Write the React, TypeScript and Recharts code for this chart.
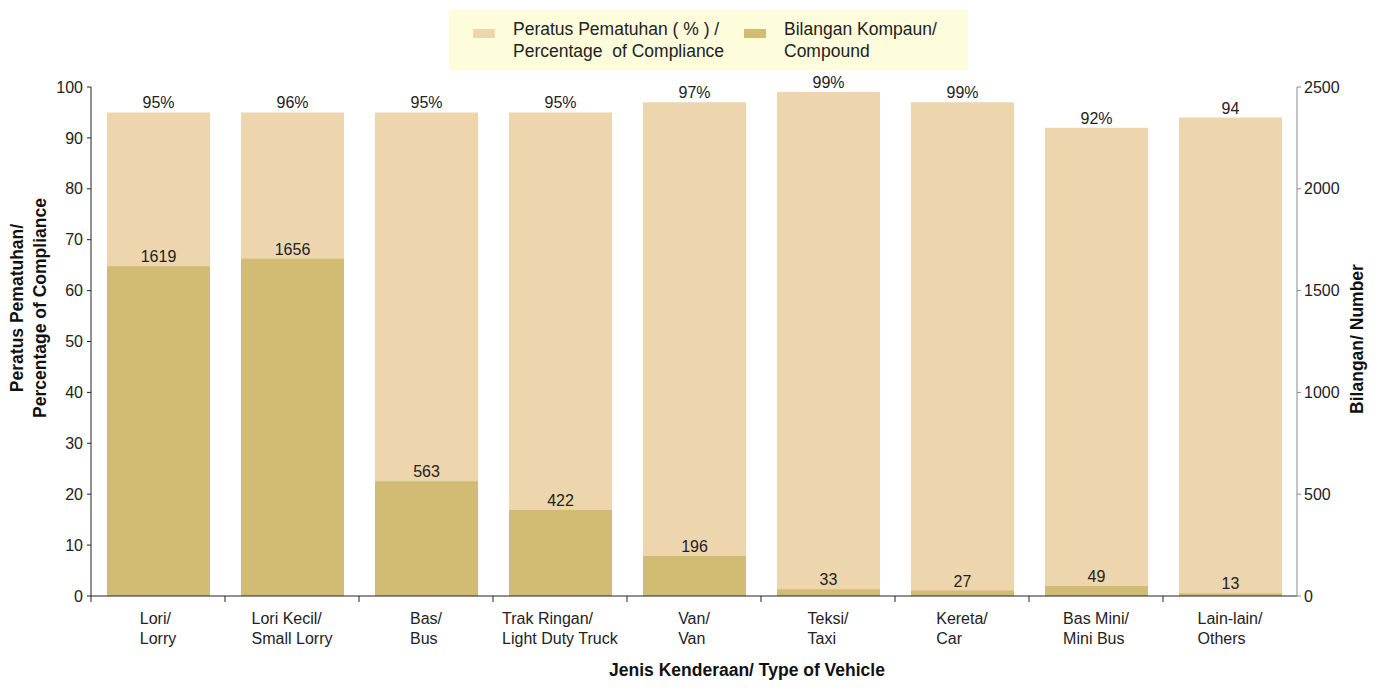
import React from 'react';
import { BarChart, Bar, XAxis, YAxis, LabelList, Label } from 'recharts';

const categories = [
  ['Lori/', 'Lorry'],
  ['Lori Kecil/', 'Small Lorry'],
  ['Bas/', 'Bus'],
  ['Trak Ringan/', 'Light Duty Truck'],
  ['Van/', 'Van'],
  ['Teksi/', 'Taxi'],
  ['Kereta/', 'Car'],
  ['Bas Mini/', 'Mini Bus'],
  ['Lain-lain/', 'Others'],
];
const compliance = [95, 95, 95, 95, 97, 99, 97, 92, 94];
const complianceLabels = ['95%', '96%', '95%', '95%', '97%', '99%', '99%', '92%', '94'];
const compounds = [1619, 1656, 563, 422, 196, 33, 27, 49, 13];
const leftTicks = [0, 10, 20, 30, 40, 50, 60, 70, 80, 90, 100];
const rightTicks = [0, 500, 1000, 1500, 2000, 2500];

const data = categories.map((c, i) => ({
  name: c.join(' '),
  lines: c,
  compliance: compliance[i],
  compound: compounds[i],
}));

const W = 1366;
const H = 674;
const LEFT_W = 83;
const RIGHT_W = 77;
const TOP = 79;
const X_H = 86;
const plotW = W - LEFT_W - RIGHT_W;
const band = plotW / categories.length;
const barW = 103;

const LIGHT = '#EDD5AD';
const DARK = '#D2BC73';
const FONT = '"Liberation Sans", Arial, Helvetica, sans-serif';
const FS = 16;
const TITLE_FS = 17.5;

let ctx: CanvasRenderingContext2D | null = null;
const measure = (s: string) => {
  if (!ctx) ctx = document.createElement('canvas').getContext('2d');
  if (!ctx) return s.length * 7.8;
  ctx.font = `${FS}px ${FONT}`;
  return ctx.measureText(s).width;
};

const XTick = (props: any) => {
  const { x, y, payload, index } = props;
  const d = data[index] || data.find((r) => r.name === payload.value);
  const lines: string[] = d ? d.lines : [String(payload.value)];
  const wMax = Math.max(...lines.map(measure));
  const left = x - wMax / 2;
  const axisY = y - 8;
  return (
    <g>
      <line x1={x - band / 2} x2={x - band / 2} y1={axisY} y2={axisY + 6} stroke="#222" strokeWidth={1} />
      {lines.map((t, i) => (
        <text key={i} x={left} y={axisY + 28 + i * 20} fontSize={FS} fill="#222" fontFamily={FONT} textAnchor="start">
          {t}
        </text>
      ))}
    </g>
  );
};

const Legendbox = () => (
  <div
    style={{
      position: 'absolute',
      left: 441,
      top: 2,
      width: 519,
      height: 60,
      background: '#FDFCDB',
      fontFamily: FONT,
      fontSize: TITLE_FS,
      color: '#222',
      lineHeight: '22px',
    }}
  >
    {[
      { color: LIGHT, x: 24, text: ['Peratus Pematuhan ( % ) /', 'Percentage  of Compliance'] },
      { color: DARK, x: 295, text: ['Bilangan Kompaun/', 'Compound'] },
    ].map((it, i) => (
      <div key={i} style={{ position: 'absolute', left: it.x, top: 8 }}>
        <div style={{ position: 'absolute', left: 0, top: 11, width: 22, height: 9, background: it.color }} />
        <div style={{ position: 'absolute', left: 40, top: 0, whiteSpace: 'pre' }}>
          {it.text[0]}
          <br />
          {it.text[1]}
        </div>
      </div>
    ))}
  </div>
);

export default function App() {
  return (
    <div style={{ position: 'relative', width: W, height: H, fontFamily: FONT }}>
      <BarChart
        width={W}
        height={H}
        data={data}
        margin={{ top: TOP, right: 0, bottom: 0, left: 0 }}
        barSize={barW}
        barGap={-barW}
        barCategoryGap={0}
      >
        <XAxis
          dataKey="name"
          xAxisId={0}
          height={X_H}
          interval={0}
          tick={<XTick />}
          tickLine={{ stroke: 'none' }}
          axisLine={{ stroke: '#222' }}
        >
          <Label
            content={(p: any) => {
              const vb = p.viewBox || {};
              return (
                <text
                  x={vb.x + vb.width / 2 + 53}
                  y={H - 6}
                  textAnchor="middle"
                  fontSize={TITLE_FS}
                  fontWeight="bold"
                  fill="#111"
                  fontFamily={FONT}
                >
                  Jenis Kenderaan/ Type of Vehicle
                </text>
              );
            }}
          />
        </XAxis>
        <YAxis
          yAxisId="left"
          width={LEFT_W}
          domain={[0, 100]}
          ticks={leftTicks}
          interval={0}
          tick={{ fontSize: FS, fill: '#222', fontFamily: FONT }}
          tickSize={4}
          tickMargin={4}
          tickLine={{ stroke: '#222' }}
          axisLine={{ stroke: '#222' }}
        >
          <Label
            content={() => (
              <g transform="rotate(-90) translate(-300 0)">
                {['Peratus Pematuhan/', 'Percentage of Compliance'].map((t, i) => (
                  <text
                    key={i}
                    x={0}
                    y={15 + i * 23}
                    textAnchor="middle"
                    fontSize={TITLE_FS}
                    fontWeight="bold"
                    fill="#111"
                    fontFamily={FONT}
                  >
                    {t}
                  </text>
                ))}
              </g>
            )}
          />
        </YAxis>
        <YAxis
          yAxisId="right"
          orientation="right"
          width={RIGHT_W}
          domain={[0, 2500]}
          ticks={rightTicks}
          interval={0}
          tick={{ fontSize: FS, fill: '#222', fontFamily: FONT }}
          tickSize={4}
          tickMargin={3}
          tickLine={{ stroke: '#888' }}
          axisLine={{ stroke: '#888' }}
        >
          <Label
            content={(p: any) => {
              const vb = p.viewBox || {};
              const cx = vb.x + 66;
              const cy = 331;
              return (
                <text
                  transform={`rotate(-90 ${cx} ${cy})`}
                  x={cx}
                  y={cy}
                  textAnchor="middle"
                  fontSize={TITLE_FS}
                  fontWeight="bold"
                  fill="#111"
                  fontFamily={FONT}
                >
                  Bilangan/ Number
                </text>
              );
            }}
          />
        </YAxis>
        <Bar dataKey="compliance" yAxisId="left" fill={LIGHT} isAnimationActive={false}>
          <LabelList
            dataKey="compliance"
            position="top"
            content={(p: any) => (
              <text
                x={p.x + p.width / 2}
                y={p.y - 4}
                textAnchor="middle"
                fontSize={FS}
                fill="#222"
                fontFamily={FONT}
              >
                {complianceLabels[p.index]}
              </text>
            )}
          />
        </Bar>
        <Bar dataKey="compound" yAxisId="right" fill={DARK} isAnimationActive={false}>
          <LabelList dataKey="compound" position="top" offset={4} fontSize={FS} fill="#222" fontFamily={FONT} />
        </Bar>
      </BarChart>
      <Legendbox />
    </div>
  );
}
